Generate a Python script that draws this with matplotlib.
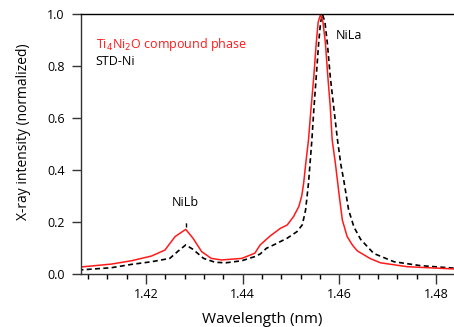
import matplotlib.pyplot as plt
from matplotlib.ticker import MultipleLocator

plt.rcParams["font.family"] = ["Open Sans", "DejaVu Sans"]

# Ti4Ni2O compound phase (red)
red_x = [1.4060, 1.4128, 1.4170, 1.4211, 1.4239, 1.4260, 1.4282, 1.4297, 1.4315,
         1.4335, 1.4356, 1.4398, 1.4425, 1.4436, 1.4457, 1.4478, 1.4492, 1.4505,
         1.4516, 1.4522, 1.4526, 1.4530, 1.4536, 1.4541, 1.4547, 1.4552, 1.4556,
         1.4561, 1.4566, 1.4571, 1.4576, 1.4581, 1.4585, 1.4592, 1.4599, 1.4606,
         1.4616, 1.4627, 1.4637, 1.4664, 1.4685, 1.4740, 1.4840]
red_y = [0.025, 0.037, 0.050, 0.068, 0.091, 0.143, 0.171, 0.137, 0.085,
         0.059, 0.053, 0.059, 0.079, 0.111, 0.146, 0.175, 0.188, 0.220,
         0.259, 0.300, 0.349, 0.420, 0.516, 0.632, 0.760, 0.889, 0.970,
         1.000, 0.970, 0.889, 0.760, 0.645, 0.516, 0.420, 0.310, 0.207,
         0.143, 0.110, 0.088, 0.058, 0.042, 0.027, 0.018]

# STD-Ni (black dashed)
std_x = [1.4060, 1.4128, 1.4170, 1.4211, 1.4249, 1.4265, 1.4282, 1.4297, 1.4319,
         1.4343, 1.4365, 1.4398, 1.4425, 1.4436, 1.4449, 1.4464, 1.4492, 1.4512,
         1.4523, 1.4527, 1.4530, 1.4536, 1.4543, 1.4547, 1.4552, 1.4557, 1.4561,
         1.4565, 1.4570, 1.4575, 1.4581, 1.4588, 1.4596, 1.4603, 1.4609, 1.4619,
         1.4630, 1.4644, 1.4671, 1.4713, 1.4768, 1.4840]
std_y = [0.014, 0.023, 0.036, 0.046, 0.059, 0.085, 0.111, 0.094, 0.059,
         0.044, 0.042, 0.050, 0.066, 0.076, 0.098, 0.111, 0.137, 0.162,
         0.188, 0.220, 0.246, 0.349, 0.516, 0.632, 0.760, 0.889, 0.970,
         1.000, 0.970, 0.889, 0.760, 0.645, 0.516, 0.420, 0.360, 0.246,
         0.180, 0.132, 0.078, 0.046, 0.031, 0.021]

fig = plt.figure(figsize=(4.54, 3.27), dpi=100)
ax = fig.add_axes([0.178, 0.163, 0.822, 0.793])

ax.plot(std_x, std_y, color="black", linestyle=(0, (3, 2)), linewidth=1.2)
ax.plot(red_x, red_y, color="#ff1a1a", linewidth=1.1)

# marker above NiLb peak
ax.plot([1.4282, 1.4282], [0.182, 0.205], color="black", linestyle=(0, (3, 1.5)), linewidth=1.0)
ax.text(1.4282, 0.275, "NiLb", ha="center", va="center", fontsize=9)
ax.text(1.4593, 0.92, "NiLa", ha="left", va="center", fontsize=9)

ax.text(1.4096, 0.885, "Ti$_4$Ni$_2$O compound phase", color="#ff1a1a", fontsize=9, va="center")
ax.text(1.4096, 0.82, "STD-Ni", color="black", fontsize=9, va="center")

ax.set_xlim(1.4065, 1.4837)
ax.set_ylim(0, 1.0)
ax.xaxis.set_major_locator(MultipleLocator(0.02))
ax.xaxis.set_minor_locator(MultipleLocator(0.004))
ax.yaxis.set_major_locator(MultipleLocator(0.2))
ax.xaxis.set_major_formatter(plt.FuncFormatter(lambda v, p: "%.2f" % v))
ax.yaxis.set_major_formatter(plt.FuncFormatter(lambda v, p: "%.1f" % v))

ax.spines["right"].set_visible(False)
for s in ["left", "bottom", "top"]:
    ax.spines[s].set_linewidth(1.0)
ax.spines["left"].set_color("#333333")
ax.spines["bottom"].set_color("#333333")
ax.tick_params(axis="both", direction="out", labelsize=9, width=1.0, colors="#333333", labelcolor="black")
ax.tick_params(axis="x", which="major", length=7)
ax.tick_params(axis="x", which="minor", length=3.5, width=1.0)
ax.tick_params(axis="y", which="major", length=6.5, pad=5)

ax.set_xlabel("Wavelength (nm)", fontsize=11)
ax.set_ylabel("X-ray intensity (normalized)", fontsize=10)
ax.xaxis.set_label_coords(0.487, -0.175)
ax.yaxis.set_label_coords(-0.153, 0.549)
ax.xaxis.label.set_va("center")
ax.yaxis.label.set_va("center")

fig.savefig("out.png", dpi=100)
